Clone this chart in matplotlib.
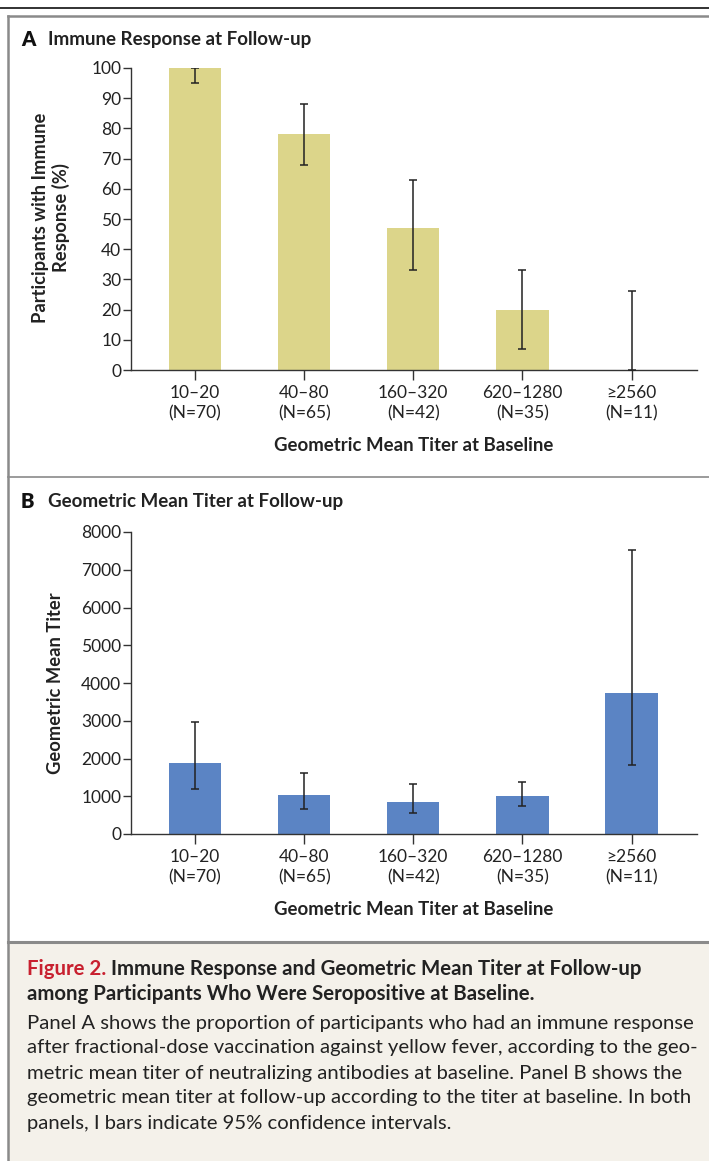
import matplotlib
matplotlib.use("Agg")
import matplotlib.pyplot as plt
from matplotlib.lines import Line2D
from matplotlib.patches import Rectangle
from matplotlib import font_manager

# ---------------- data ----------------
categories = ["10\u201320\n(N=70)", "40\u201380\n(N=65)", "160\u2013320\n(N=42)",
              "620\u20131280\n(N=35)", "\u22652560\n(N=11)"]
response_pct = [100, 78, 47, 20, 0]
response_lo = [95, 68, 33, 7, 0]
response_hi = [100, 88, 63, 33, 26]
gmt_values = [1870, 1025, 840, 1000, 3725]
gmt_lo = [1200, 655, 550, 750, 1835]
gmt_hi = [2970, 1625, 1325, 1380, 7530]
yticks_a = list(range(0, 101, 10))
yticks_b = list(range(0, 8001, 1000))

names = {f.name for f in font_manager.fontManager.ttflist}
def pick(*fams):
    for f in fams:
        if f in names:
            return f
    return "DejaVu Sans"
TICKF = pick("Liberation Sans Narrow", "Lato", "Open Sans")
BOLDF = pick("Lato", "Open Sans", "Noto Sans")
BODYF = pick("Lato", "Open Sans", "Noto Sans")

W, H = 709, 1161
fig = plt.figure(figsize=(W / 100, H / 100), dpi=100)

def fx(px): return px / W
def fy(py): return 1 - py / H

# frame and decorations
fig.add_artist(Line2D([0, 1], [fy(8), fy(8)], color="#222222", lw=1.3))
fig.add_artist(Rectangle((fx(8), 0), 1, fy(942), transform=fig.transFigure,
                         facecolor="#f4f1ea", edgecolor="none", zorder=0))
fig.add_artist(Line2D([fx(8), 1], [fy(16), fy(16)], color="#8a8a8a", lw=1.8))
fig.add_artist(Line2D([fx(8), fx(8)], [0, fy(16)], color="#8a8a8a", lw=1.8))
fig.add_artist(Line2D([fx(8), 1], [fy(477), fy(477)], color="#8a8a8a", lw=1.2))
fig.add_artist(Line2D([fx(8), 1], [fy(942), fy(942)], color="#8a8a8a", lw=2.2))

def setup(ax, yticks, ylim_top):
    for s in ("top", "right"):
        ax.spines[s].set_visible(False)
    for s in ("left", "bottom"):
        ax.spines[s].set_linewidth(1.0)
        ax.spines[s].set_color("#333333")
    ax.set_xlim(-0.587, 4.6)
    ax.set_ylim(0, ylim_top)
    ax.spines["left"].set_bounds(0, ylim_top)
    ax.set_yticks(yticks)
    ax.set_yticklabels([str(t) for t in yticks])
    ax.set_xticks(range(len(categories)))
    ax.set_xticklabels(categories, fontfamily=TICKF, fontsize=12.5, linespacing=1.3)
    for lab in ax.get_yticklabels():
        lab.set_fontfamily(TICKF)
        lab.set_fontsize(12.5)
    ax.tick_params(axis="y", direction="out", length=6, width=1.0, pad=1, colors="#333333",
                   labelcolor="#222222")
    ax.tick_params(axis="x", direction="out", length=7, width=1.0, pad=4, colors="#333333",
                   labelcolor="#222222")
    ax.set_facecolor("none")
    ax.set_xlabel("Geometric Mean Titer at Baseline", fontfamily=BOLDF, fontweight="bold",
                  fontsize=13.4, labelpad=11, color="#222222")

xs = list(range(len(categories)))

# Panel A
axA = fig.add_axes([fx(131), fy(370), fx(697) - fx(131), fy(68) - fy(370)])
axA.bar(xs, response_pct, width=0.48, color="#dcd58a", zorder=2)
axA.errorbar(xs, response_pct,
             yerr=[[v - l for v, l in zip(response_pct, response_lo)],
                   [h - v for v, h in zip(response_pct, response_hi)]],
             fmt="none", ecolor="#222222", elinewidth=1.1, capsize=3, capthick=1.1, zorder=3)
setup(axA, yticks_a, 100)
fig.text(fx(51), fy(218), "Participants with Immune\nResponse (%)", rotation=90,
         ha="center", va="center", fontfamily=BOLDF, fontweight="bold", fontsize=13.2,
         linespacing=1.2, color="#222222")

# Panel B
axB = fig.add_axes([fx(131), fy(834), fx(697) - fx(131), fy(532) - fy(834)])
axB.bar(xs, gmt_values, width=0.48, color="#5b84c4", zorder=2)
axB.errorbar(xs, gmt_values,
             yerr=[[v - l for v, l in zip(gmt_values, gmt_lo)],
                   [h - v for v, h in zip(gmt_values, gmt_hi)]],
             fmt="none", ecolor="#222222", elinewidth=1.1, capsize=3, capthick=1.1, zorder=3)
setup(axB, yticks_b, 8000)
fig.text(fx(56), fy(683), "Geometric Mean Titer", rotation=90,
         ha="center", va="center", fontfamily=BOLDF, fontweight="bold", fontsize=13.2,
         color="#222222")

# panel titles
for ytxt, letter, title in [(39, "A", "Immune Response at Follow-up"),
                            (502, "B", "Geometric Mean Titer at Follow-up")]:
    fig.text(fx(21), fy(ytxt), letter, fontfamily=BOLDF, fontweight="heavy", fontsize=14.5,
             va="center", color="#111111")
    fig.text(fx(48), fy(ytxt), title, fontfamily=BOLDF,
             fontweight="bold", fontsize=13.5, va="center", color="#222222")

# caption
fig.canvas.draw()
r = fig.canvas.get_renderer()
t1 = fig.text(fx(27), fy(969), "Figure 2.", color="#c8202f", fontfamily=BOLDF,
              fontweight="bold", fontsize=14.7, va="center")
bb = t1.get_window_extent(renderer=r)
fig.text(bb.x1 / W + fx(5), fy(969), "Immune Response and Geometric Mean Titer at Follow-up",
         color="#222222", fontfamily=BOLDF, fontweight="bold", fontsize=14.7, va="center")
fig.text(fx(27), fy(994), "among Participants Who Were Seropositive at Baseline.",
         color="#222222", fontfamily=BOLDF, fontweight="bold", fontsize=14.7, va="center")
body = ["Panel A shows the proportion of participants who had an immune response",
        "after fractional-dose vaccination against yellow fever, according to the geo-",
        "metric mean titer of neutralizing antibodies at baseline. Panel B shows the",
        "geometric mean titer at follow-up according to the titer at baseline. In both",
        "panels, I bars indicate 95% confidence intervals."]
for i, line in enumerate(body):
    fig.text(fx(27), fy(1023 + 25 * i), line, color="#222222", fontfamily=BODYF,
             fontsize=14.6, va="center")

fig.savefig("out.png", dpi=100)
